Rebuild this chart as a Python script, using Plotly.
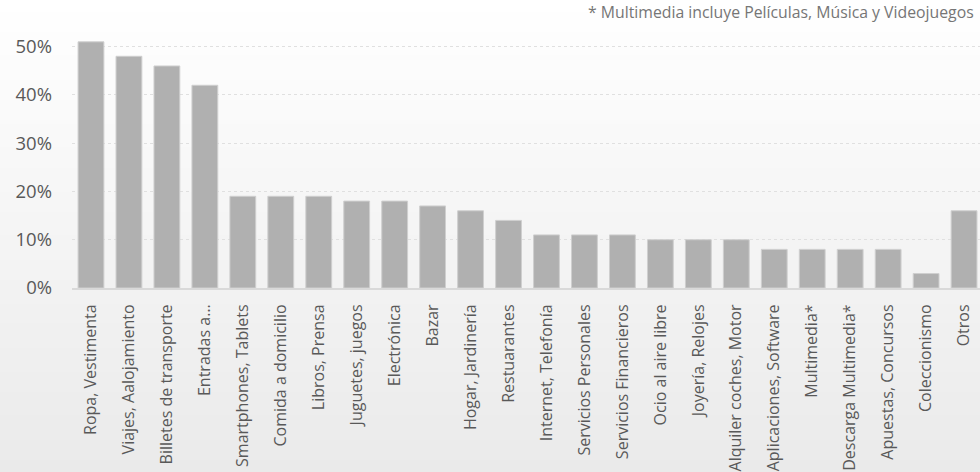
import plotly.graph_objects as go

categories = [
    "Ropa, Vestimenta", "Viajes, Aalojamiento", "Billetes de transporte", "Entradas a…",
    "Smartphones, Tablets", "Comida a domicilio", "Libros, Prensa", "Juguetes, juegos",
    "Electrónica", "Bazar", "Hogar, Jardinería", "Restuarantes", "Internet, Telefonía",
    "Servicios Personales", "Servicios Financieros", "Ocio al aire libre", "Joyería, Relojes",
    "Alquiler coches, Motor", "Aplicaciones, Software", "Multimedia*", "Descarga Multimedia*",
    "Apuestas, Concursos", "Coleccionismo", "Otros",
]
values = [
    0.51, 0.48, 0.46, 0.42,
    0.19, 0.19, 0.19, 0.18,
    0.18, 0.17, 0.16, 0.14, 0.11,
    0.11, 0.11, 0.10, 0.10,
    0.10, 0.08, 0.08, 0.08,
    0.08, 0.03, 0.16,
]
footnote = "* Multimedia incluye Películas, Música y Videojuegos"

W, H = 980, 472
M = dict(l=72, r=0, t=37, b=184)

fig = go.Figure(go.Bar(
    x=categories, y=values,
    marker=dict(color="#b0b0b0", line=dict(color="#cfcfcf", width=1)),
    hoverinfo="x+y",
))

# vertical white-to-grey background gradient, built from thin horizontal bands
plot_h = H - M["t"] - M["b"]
n_bands = 118
shapes = []
for i in range(n_bands):
    top_px = H * i / n_bands
    bot_px = H * (i + 1) / n_bands
    f = (i + 0.5) / n_bands
    g = round(255 - (255 - 234) * f)
    y0 = (H - bot_px - M["b"]) / plot_h
    y1 = (H - top_px - M["b"]) / plot_h
    shapes.append(dict(
        type="rect", xref="paper", yref="paper",
        x0=-M["l"] / (W - M["l"] - M["r"]) - 0.01, x1=1.02,
        y0=y0 - 0.001, y1=y1 + 0.001,
        fillcolor=f"rgb({g},{g},{g})", line=dict(width=0), layer="below",
    ))

fig.update_layout(
    width=W, height=H,
    margin=M,
    paper_bgcolor="white",
    plot_bgcolor="rgba(0,0,0,0)",
    bargap=0.32,
    showlegend=False,
    shapes=shapes,
    font=dict(family="Open Sans", color="#595959"),
    xaxis=dict(
        range=[-0.5, 23.42],
        tickangle=-90, tickfont=dict(size=16, color="#595959"),
        showline=True, linecolor="#d9d9d9", linewidth=2,
        showgrid=False, ticks="outside", ticklen=8, tickcolor="rgba(0,0,0,0)",
    ),
    yaxis=dict(
        range=[0, 0.52], tickvals=[0, 0.1, 0.2, 0.3, 0.4, 0.5], tickformat=".0%",
        tickfont=dict(size=18.5, color="#595959"),
        showgrid=True, gridcolor="#e0e0e0", gridwidth=1, griddash="dot",
        zeroline=False, ticks="", ticklabelstandoff=19,
    ),
    annotations=[dict(
        text=footnote, xref="paper", yref="paper",
        x=1, y=(H - 12 - M["b"]) / plot_h, xanchor="right", yanchor="middle",
        xshift=-4, showarrow=False, font=dict(size=15.8, color="#767676"),
    )],
)

fig.write_html("out.html")
